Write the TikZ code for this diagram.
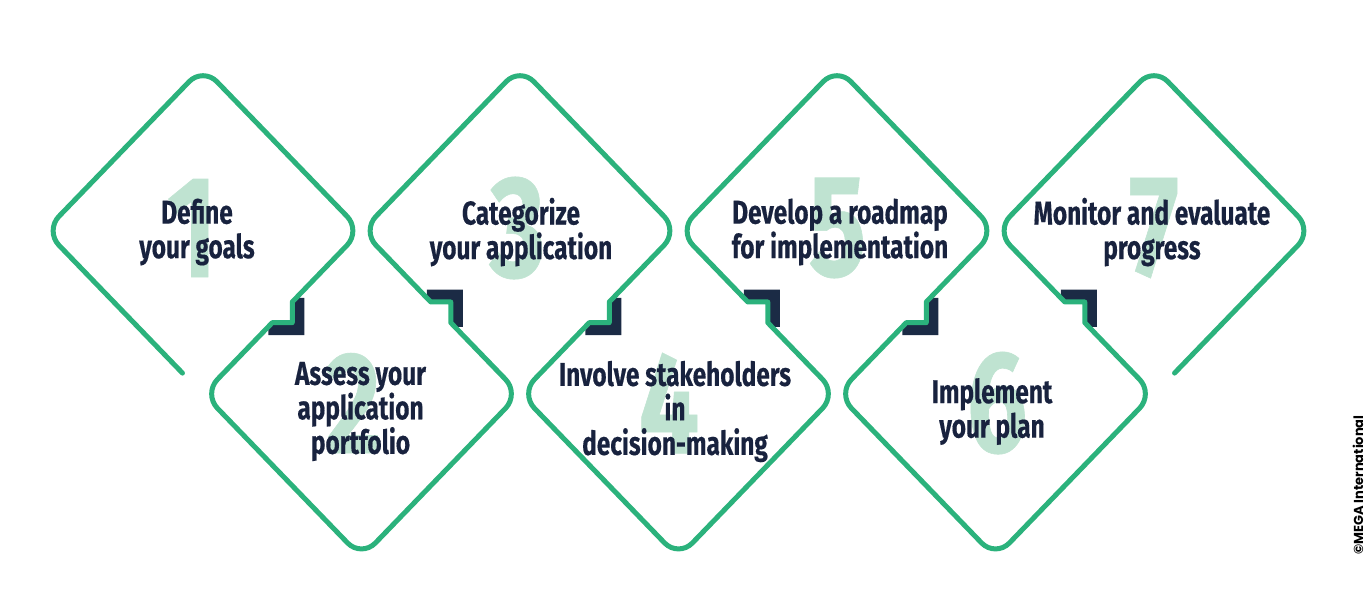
\documentclass[tikz,border=0pt]{standalone}
\usepackage{fontspec}
\newfontfamily\stepfont[FakeStretch=0.74, FakeBold=0.4]{Fira Sans}
\newfontfamily\markfont{Poppins}
\usetikzlibrary{calc}
\definecolor{routegreen}{HTML}{2BB27C}
\definecolor{notchnavy}{HTML}{1B2B45}
\definecolor{textnavy}{HTML}{18223E}
\definecolor{digitmint}{HTML}{BFE3D1}
\tikzset{
  route/.style={draw=routegreen, line width=5pt, line cap=round, line join=round, rounded corners=20pt},
  steptext/.style={font=\stepfont\bfseries\fontsize{33}{34.5}\selectfont, text=textnavy, align=center, inner sep=0pt},
  bigdigit/.style={font=\stepfont\bfseries\fontsize{145}{145}\selectfont, text=digitmint, inner sep=0pt},
  marktext/.style={font=\markfont\bfseries\fontsize{13}{13}\selectfont, text=black, inner sep=0pt, rotate=90}
}
\begin{document}
\begin{tikzpicture}[x=1pt, y=-1.035pt]
  \useasboundingbox (0,0) rectangle (1366,569.1);

  % 菱形：中心 C，左 L、上 T、右 R、下 B 四个角
  \foreach \i/\cx/\cy in {1/203/223, 2/361.5/380.5, 3/520/223, 4/678.5/380.5,
                          5/837/223, 6/995.5/380.5, 7/1154/223}{
    \coordinate (C\i) at (\cx,\cy);
    \coordinate (L\i) at ({\cx-158},\cy);
    \coordinate (T\i) at (\cx,{\cy-158});
    \coordinate (R\i) at ({\cx+158},\cy);
    \coordinate (B\i) at (\cx,{\cy+158});
  }

  % 相邻菱形共用边上的台阶缺口（s=1 向右下，s=-1 向右上）
  \foreach \j/\mx/\s in {1/282.25/1, 2/440.75/-1, 3/599.25/1, 4/757.75/-1,
                         5/916.25/1, 6/1074.75/-1}{
    \coordinate (N\j) at (\mx,301.75);
    \coordinate (N\j a) at ({\mx+10},{301.75-10*\s});
    \coordinate (N\j b) at ({\mx+10},{301.75+10*\s});
    \coordinate (N\j c) at ({\mx-10},{301.75+10*\s});
    % 深色阴影
    \fill[notchnavy, shift={(N\j)}, yscale=\s]
      (10,-10) -- (14,-14) -- (22,-14) -- (22,22) -- (-14,22) -- (-14,14)
      -- (-10,10) -- (10,10) -- cycle;
  }

  % 一笔画出的绿色折线
  \draw[route] ($(B1)!0.13!(L1)$) -- (L1) -- (T1) -- (R1)
    [sharp corners] -- (N1a) -- (N1b) -- (N1c) [rounded corners=20pt] -- (L2) -- (B2) -- (R2)
    [sharp corners] -- (N2a) -- (N2b) -- (N2c) [rounded corners=20pt] -- (L3) -- (T3) -- (R3)
    [sharp corners] -- (N3a) -- (N3b) -- (N3c) [rounded corners=20pt] -- (L4) -- (B4) -- (R4)
    [sharp corners] -- (N4a) -- (N4b) -- (N4c) [rounded corners=20pt] -- (L5) -- (T5) -- (R5)
    [sharp corners] -- (N5a) -- (N5b) -- (N5c) [rounded corners=20pt] -- (L6) -- (B6) -- (R6)
    [sharp corners] -- (N6a) -- (N6b) -- (N6c) [rounded corners=20pt] -- (L7) -- (T7) -- (R7)
    -- ($(B7)!0.13!(R7)$);

  % 大号序号
  \node[bigdigit] (d1) at (192,220.3) {1};
  \node[bigdigit] (d2) at (353,389.4) {2};
  \node[bigdigit] (d3) at (517.5,220.3) {3};
  \node[bigdigit] (d4) at (669,389.4) {4};
  \node[bigdigit] (d5) at (837.5,220.3) {5};
  \node[bigdigit] (d6) at (997,389.4) {6};
  \node[bigdigit] (d7) at (1154,220.3) {7};

  % 步骤文字
  \node[steptext] (s1) at (197,224.2) {Define\\your goals};
  \node[steptext] (s2) at (360.5,397.6) {Assess your\\application\\portfolio};
  \node[steptext] (s3) at (521,224.2) {Categorize\\your application};
  \node[steptext] (s4) at (675,397.6) {Involve stakeholders\\in\\decision-making};
  \node[steptext] (s5) at (840,224.2) {Develop a roadmap\\for implementation};
  \node[steptext] (s6) at (992,397.6) {Implement\\your plan};
  \node[steptext] (s7) at (1152,224.2) {Monitor and evaluate\\progress};

  % 右侧竖排版权
  \node[marktext] (mark) at (1358,468.6) {©MEGA International};
\end{tikzpicture}
\end{document}
